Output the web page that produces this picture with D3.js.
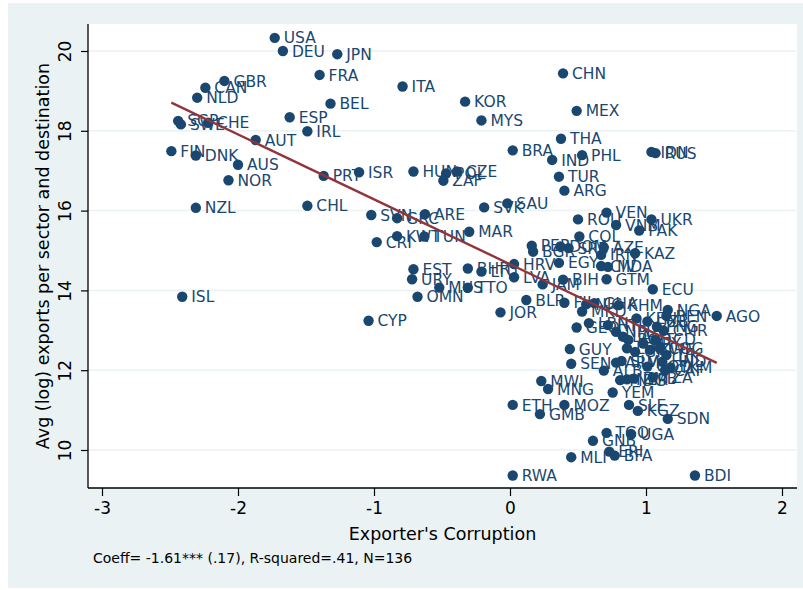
<!DOCTYPE html>
<html>
<head>
<meta charset="utf-8">
<script src="https://cdn.jsdelivr.net/npm/d3@7"></script>
<style>
    body { margin: 0; background: #fff; }
    text { font-family: "DejaVu Sans", sans-serif; }
</style>
</head>
<body>
<div id="chart"></div>
<script>
// country codes, exporter corruption index, avg (log) exports per sector and destination
const countries = [
    "USA", "DEU", "JPN", "FRA", "GBR", "CAN", "NLD", "ITA", "BEL", "KOR",
    "ESP", "IRL", "SGP", "SWE", "CHE", "AUT", "FIN", "DNK", "AUS", "NOR",
    "PRT", "ISR", "HUN", "POL", "CZE", "ZAF", "NZL", "CHL", "CHN", "MEX",
    "MYS", "THA", "BRA", "IND", "PHL", "IDN", "RUS", "TUR", "ARG", "SAU",
    "SVK", "ISL", "SVN", "GRC", "ARE", "KWT", "TUN", "CRI", "MAR", "EST",
    "URY", "OMN", "MUS", "BHR", "TTO", "CYP", "HRV", "LTU", "LVA", "JAM",
    "BIH", "PER", "BGR", "DOM", "SRB", "ROU", "VEN", "VNM", "UKR", "PAK",
    "COL", "AZE", "IRN", "KAZ", "EGY", "CIV", "MDA", "GTM", "ECU", "BLR",
    "JOR", "FJI", "NIC", "GHA", "KHM", "NGA", "KEN", "BEN", "AGO", "LBN",
    "GEO", "MKD", "CMR", "GUY", "SEN", "ALB", "ARM", "SLV", "TKM", "TZA",
    "MDG", "NER", "ZMB", "MWI", "MNG", "YEM", "ETH", "MOZ", "GMB", "SLE",
    "KGZ", "SDN", "TGO", "UGA", "GNB", "ERI", "BFA", "MLI", "RWA", "BDI",
    "HTI", "NPL", "LAO", "BGD", "UZB", "PNG", "PRY", "TCD", "ZWE", "COG",
    "TJK", "HND", "GIN", "CAF", "COD", "LBR"
];

const corruption = [
    -1.73, -1.67, -1.27, -1.40, -2.10, -2.24, -2.30, -0.79, -1.32, -0.33,
    -1.62, -1.49, -2.44, -2.42, -2.22, -1.87, -2.49, -2.31, -2.00, -2.07,
    -1.37, -1.11, -0.71, -0.47, -0.39, -0.49, -2.31, -1.49, 0.39, 0.49,
    -0.21, 0.375, 0.02, 0.31, 0.53, 1.04, 1.07, 0.36, 0.40, -0.02,
    -0.19, -2.41, -1.02, -0.83, -0.625, -0.83, -0.63, -0.98, -0.30, -0.71,
    -0.72, -0.68, -0.52, -0.31, -0.31, -1.04, 0.03, -0.21, 0.03, 0.24,
    0.39, 0.16, 0.17, 0.37, 0.43, 0.50, 0.71, 0.78, 1.04, 0.95,
    0.51, 0.69, 0.67, 0.92, 0.36, 0.67, 0.72, 0.71, 1.05, 0.12,
    -0.07, 0.40, 0.56, 0.62, 0.80, 1.16, 0.93, 1.15, 1.52, 0.58,
    0.49, 0.53, 1.13, 0.44, 0.45, 0.69, 0.78, 0.82, 1.18, 1.05,
    0.81, 0.86, 0.91, 0.23, 0.28, 0.755, 0.02, 0.40, 0.22, 0.875,
    0.94, 1.16, 0.71, 0.89, 0.61, 0.73, 0.77, 0.45, 0.02, 1.36,
    0.72, 0.78, 0.83, 0.87, 1.01, 1.08, 0.98, 1.07, 1.03, 1.10,
    1.15, 1.12, 0.92, 1.14, 1.01, 0.86
];

const avgExports = [
    20.33, 20.00, 19.92, 19.40, 19.25, 19.08, 18.83, 19.11, 18.68, 18.73,
    18.34, 17.99, 18.25, 18.16, 18.20, 17.77, 17.49, 17.38, 17.15, 16.76,
    16.87, 16.96, 16.98, 16.93, 16.98, 16.75, 16.07, 16.12, 19.44, 18.50,
    18.26, 17.80, 17.51, 17.27, 17.39, 17.47, 17.44, 16.85, 16.50, 16.18,
    16.08, 13.84, 15.89, 15.81, 15.91, 15.36, 15.35, 15.21, 15.47, 14.53,
    14.28, 13.84, 14.07, 14.55, 14.07, 13.24, 14.66, 14.47, 14.33, 14.15,
    14.27, 15.12, 14.97, 15.10, 15.06, 15.78, 15.95, 15.64, 15.78, 15.50,
    15.35, 15.08, 14.89, 14.93, 14.69, 14.61, 14.59, 14.28, 14.03, 13.76,
    13.45, 13.69, 13.65, 13.68, 13.63, 13.51, 13.30, 13.36, 13.36, 13.18,
    13.07, 13.47, 12.99, 12.53, 12.16, 11.99, 12.19, 12.23, 12.07, 11.82,
    11.75, 11.77, 11.79, 11.73, 11.53, 11.44, 11.13, 11.13, 10.90, 11.13,
    10.98, 10.78, 10.43, 10.40, 10.23, 9.96, 9.86, 9.82, 9.36, 9.36,
    13.13, 12.96, 12.84, 12.76, 13.22, 13.09, 12.67, 12.76, 12.51, 12.55,
    12.38, 12.21, 12.46, 12.00, 12.09, 12.55
];

const xTicks = [-3, -2, -1, 0, 1, 2];
const yTicks = [10, 12, 14, 16, 18, 20];

const xTitle = "Exporter's Corruption";
const yTitle = "Avg (log) exports per sector and destination";
const note = "Coeff= -1.61*** (.17), R-squared=.41, N=136";

function scatterChart() {
    const width = 803,
        height = 590,
        plot = {left: 88, right: 797, top: 24, bottom: 488},
        navy = "#1a476f",
        maroon = "#90353b",
        pale = "#eaf2f3";

    function chart(selection) {
        const points = countries.map((c, i) => ({code: c, x: corruption[i], y: avgExports[i]}));

        const x = d3.scaleLinear().domain([-3, 2]).range([102, 782]);
        const y = d3.scaleLinear().domain([10, 20]).range([450, 51]);

        const svg = selection.append("svg")
            .attr("width", width)
            .attr("height", height);

        // graph region + plot region
        svg.append("rect")
            .attr("x", 8).attr("y", 3)
            .attr("width", width - 8).attr("height", 585)
            .attr("fill", pale);
        svg.append("rect")
            .attr("x", plot.left).attr("y", plot.top)
            .attr("width", plot.right - plot.left).attr("height", plot.bottom - plot.top)
            .attr("fill", "#fff");

        // horizontal grid
        svg.append("g")
            .selectAll("line")
            .data(yTicks)
            .enter()
            .append("line")
            .attr("x1", plot.left).attr("x2", plot.right - 1)
            .attr("y1", d => y(d)).attr("y2", d => y(d))
            .attr("stroke", pale)
            .attr("stroke-width", 1.5);

        // y axis
        const yAxis = svg.append("g")
            .attr("transform", `translate(${plot.left},0)`)
            .call(d3.axisLeft(y).tickValues(yTicks).tickSize(7).tickFormat(d => String(d)));
        yAxis.select(".domain").remove();
        yAxis.selectAll(".tick line").attr("stroke", "#000").attr("stroke-width", 1.2);
        yAxis.selectAll(".tick text")
            .attr("x", null).attr("dy", null)
            .attr("transform", "translate(-17,0) rotate(-90)")
            .attr("text-anchor", "middle")
            .attr("fill", "#000")
            .style("font-size", "17px");
        svg.append("line")
            .attr("x1", plot.left).attr("x2", plot.left)
            .attr("y1", plot.top).attr("y2", plot.bottom)
            .attr("stroke", "#000").attr("stroke-width", 1.3);

        // x axis
        const xAxis = svg.append("g")
            .attr("transform", `translate(0,${plot.bottom})`)
            .call(d3.axisBottom(x).tickValues(xTicks).tickSize(8).tickPadding(6).tickFormat(d => String(d)));
        xAxis.select(".domain").remove();
        xAxis.selectAll(".tick line").attr("stroke", "#000").attr("stroke-width", 1.2);
        xAxis.selectAll(".tick text")
            .attr("fill", "#000")
            .style("font-size", "17px");
        svg.append("line")
            .attr("x1", plot.left).attr("x2", plot.right)
            .attr("y1", plot.bottom).attr("y2", plot.bottom)
            .attr("stroke", "#000").attr("stroke-width", 1.3);

        // titles
        svg.append("text")
            .attr("x", (plot.left + plot.right) / 2)
            .attr("y", 540)
            .attr("text-anchor", "middle")
            .style("font-size", "17.5px")
            .text(xTitle);
        svg.append("text")
            .attr("transform", `translate(49,${(plot.top + plot.bottom) / 2}) rotate(-90)`)
            .attr("text-anchor", "middle")
            .style("font-size", "17.5px")
            .text(yTitle);
        svg.append("text")
            .attr("x", 93)
            .attr("y", 563)
            .style("font-size", "14px")
            .text(note);

        // markers and labels
        const marks = svg.append("g")
            .selectAll("g")
            .data(points)
            .enter()
            .append("g")
            .attr("transform", d => `translate(${x(d.x)},${y(d.y)})`);

        marks.append("circle")
            .attr("r", 5.2)
            .attr("fill", navy);

        marks.append("text")
            .attr("x", 9)
            .attr("dy", "0.36em")
            .attr("fill", navy)
            .style("font-size", "15.5px")
            .text(d => d.code);

        // linear fit over the data range
        const mx = d3.mean(points, d => d.x),
            my = d3.mean(points, d => d.y);
        const slope = d3.sum(points, d => (d.x - mx) * (d.y - my)) / d3.sum(points, d => (d.x - mx) ** 2);
        const intercept = my - slope * mx;
        const ext = d3.extent(points, d => d.x);

        svg.append("path")
            .datum(ext.map(v => [v, intercept + slope * v]))
            .attr("d", d3.line().x(d => x(d[0])).y(d => y(d[1])))
            .attr("fill", "none")
            .attr("stroke", maroon)
            .attr("stroke-width", 2.4);
    }

    return chart;
}

d3.select("#chart").call(scatterChart());
</script>
</body>
</html>
